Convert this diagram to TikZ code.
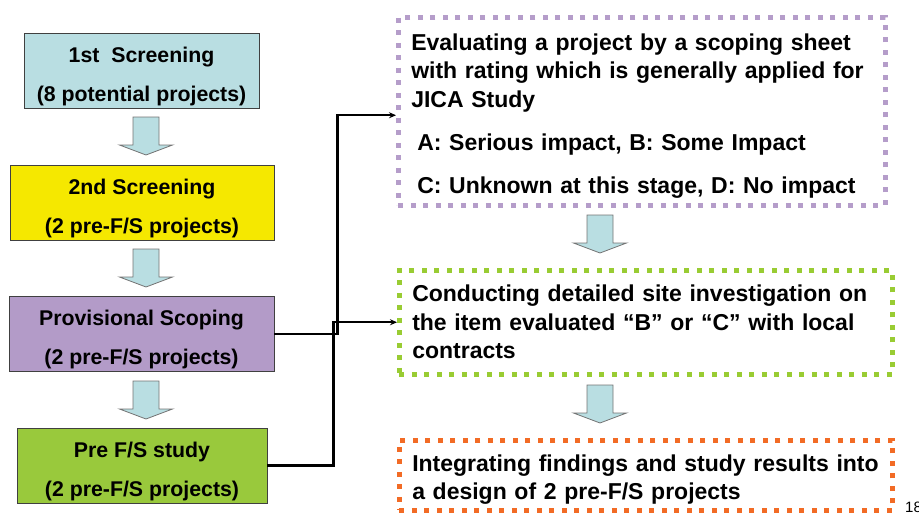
\documentclass[tikz,border=0pt]{standalone}
\usepackage{fontspec}
\setmainfont{Liberation Sans}
\usetikzlibrary{arrows.meta}
\definecolor{screenblue}{RGB}{185,222,226}
\definecolor{screenyellow}{RGB}{245,232,0}
\definecolor{scopepurple}{RGB}{179,155,200}
\definecolor{studygreen}{RGB}{153,201,60}
\definecolor{dotpurple}{RGB}{181,157,202}
\definecolor{dotgreen}{RGB}{153,204,51}
\definecolor{dotorange}{RGB}{242,107,37}
\newcommand{\lift}{\rule{0pt}{27pt}}

\begin{document}
\begin{tikzpicture}[x=1pt,y=-1pt,
  stage/.style={draw=black!75,line width=0.8pt,minimum height=75pt,inner sep=2pt,align=center,
    font=\fontsize{21.3}{39}\selectfont\bfseries},
  note/.style={line width=4.5pt,dash pattern=on 5pt off 7.5pt,anchor=north west,
    inner xsep=13pt,inner ysep=4pt,align=left,font=\fontsize{23}{28.5}\selectfont\bfseries},
  link/.style={line width=2.4pt,-{Stealth[length=7pt,width=6pt]}},
  downarrow/.pic={\draw[draw=black!55,fill=screenblue,line width=0.8pt]
    (-13,0) -- (13,0) -- (13,28) -- (26.5,28) -- (0,38) -- (-26.5,28) -- (-13,28) -- cycle;}
]
\useasboundingbox (0,0) rectangle (919,514);

\node[stage,fill=screenblue,minimum width=235pt] (first) at (141.5,71) {\lift 1st~ Screening\\(8 potential projects)};
\node[stage,fill=screenyellow,minimum width=264pt] (second) at (142,202.5) {\lift 2nd Screening\\(2 pre-F/S projects)};
\node[stage,fill=scopepurple,minimum width=265pt,minimum height=74pt] (scope) at (141.5,334) {\lift Provisional Scoping\\(2 pre-F/S projects)};
\node[stage,fill=studygreen,minimum width=250pt] (prefs) at (142,465.5) {\lift Pre F/S study\\(2 pre-F/S projects)};

\pic at (146,117) {downarrow};
\pic at (146,249) {downarrow};
\pic at (146,381) {downarrow};

\node[note,draw=dotpurple,minimum width=487pt,minimum height=188pt,text width=461pt] (evaluate) at (396,15)
  {\rule{0pt}{26pt}Evaluating a project by a scoping sheet\\with rating which is generally applied for\\JICA Study\\[15pt]
   \hspace{6pt}A: Serious impact, B: Some Impact\\[14.5pt]
   \hspace{6pt}C: Unknown at this stage, D: No impact};
\node[note,draw=dotgreen,minimum width=493pt,minimum height=104pt,text width=467pt] (investigate) at (397,268)
  {Conducting detailed site investigation on\\the item evaluated “B” or “C” with local\\contracts};
\node[note,draw=dotorange,minimum width=493pt,minimum height=70pt,text width=467pt] (integrate) at (397,438)
  {\rule{0pt}{25pt}\mbox{Integrating findings and study results into}\\a design of 2 pre-F/S projects};

\pic at (600,215) {downarrow};
\pic at (600,385) {downarrow};

\draw[link] (scope.east) -- ++(63,0) |- ([yshift=-4pt]evaluate.west);
\draw[link] (prefs.east) -- ++(66,0) |- (investigate.west);

\node[anchor=north west,inner sep=0pt,font=\fontsize{15}{15}\selectfont] (page) at (905,502) {18};
\end{tikzpicture}
\end{document}
